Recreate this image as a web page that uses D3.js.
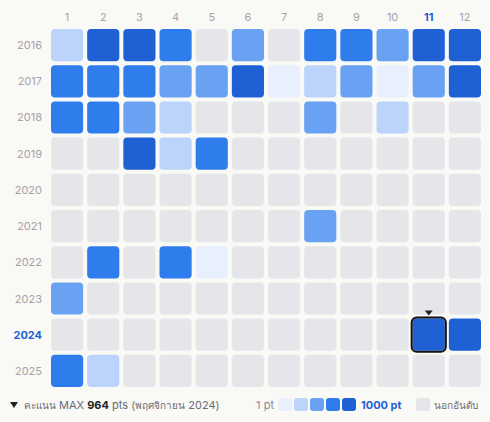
<!DOCTYPE html>
<html><head><meta charset="utf-8">
<script src="https://cdn.jsdelivr.net/npm/d3@7"></script>
<style>
html,body{margin:0;padding:0;background:#f9f9f6;}
svg{display:block;font-family:Inter,"Noto Sans",sans-serif;}
</style></head><body>
<svg id="chart" width="490" height="422"></svg>
<script>
const years = [2016,2017,2018,2019,2020,2021,2022,2023,2024,2025];
const months = ["1","2","3","4","5","6","7","8","9","10","11","12"];
// points per month (null = not ranked)
const pts2016 = [300,900,900,700,null,500,null,700,700,500,900,900];
const pts2017 = [700,700,700,500,500,900,120,300,500,120,500,900];
const pts2018 = [700,700,500,300,null,null,null,500,null,300,null,null];
const pts2019 = [null,null,900,300,700,null,null,null,null,null,null,null];
const pts2020 = [null,null,null,null,null,null,null,null,null,null,null,null];
const pts2021 = [null,null,null,null,null,null,null,500,null,null,null,null];
const pts2022 = [null,700,null,700,120,null,null,null,null,null,null,null];
const pts2023 = [500,null,null,null,null,null,null,null,null,null,null,null];
const pts2024 = [null,null,null,null,null,null,null,null,null,null,964,900];
const pts2025 = [700,300,null,null,null,null,null,null,null,null,null,null];
const seriesByYear = [pts2016,pts2017,pts2018,pts2019,pts2020,pts2021,pts2022,pts2023,pts2024,pts2025];
const legendLow = "1 pt", legendHigh = "1000 pt", legendOut = "นอกอันดับ";
const selYear = 2024, selMonth = "11";

const colors = ["#e8effd","#bcd3fb","#6aa2f3","#2f7ced","#1f60d5"];
const emptyColor = "#e5e6ea";
const color = d3.scaleQuantize().domain([1,1000]).range(colors);

const svg = d3.select("#chart");
const x = d3.scaleBand().domain(months).range([50,482]).paddingInner(4/36).paddingOuter(1/36);
const y = d3.scaleBand().domain(years).range([28,388]).paddingInner(4/36).paddingOuter(1/36);

const cells = [];
years.forEach((yr,i)=>months.forEach((m,j)=>cells.push({yr,m,v:seriesByYear[i][j]})));

svg.append("g").selectAll("rect").data(cells).join("rect")
  .attr("x",d=>x(d.m)).attr("y",d=>y(d.yr))
  .attr("width",x.bandwidth()).attr("height",y.bandwidth())
  .attr("rx",4)
  .attr("fill",d=>d.v==null?emptyColor:color(d.v));

// month labels
svg.append("g").selectAll("text").data(months).join("text")
  .attr("x",d=>x(d)+x.bandwidth()/2).attr("y",21)
  .attr("text-anchor","middle").attr("font-size",11)
  .attr("font-weight",d=>d===selMonth?700:400)
  .attr("fill",d=>d===selMonth?"#1f60d5":"#a8a1a8")
  .text(d=>d);
// year labels
svg.append("g").selectAll("text").data(years).join("text")
  .attr("x",42).attr("y",d=>y(d)+y.bandwidth()/2+4)
  .attr("text-anchor","end").attr("font-size",11)
  .attr("font-weight",d=>d===selYear?700:400)
  .attr("fill",d=>d===selYear?"#1f60d5":"#a8a1a8")
  .text(d=>d);

// selected cell
const sx = x(selMonth), sy = y(selYear);
svg.append("rect").attr("x",sx-1).attr("y",sy-1)
  .attr("width",x.bandwidth()+2).attr("height",y.bandwidth()+2)
  .attr("rx",5).attr("fill","none").attr("stroke","#111").attr("stroke-width",2);
const cx = sx + x.bandwidth()/2;
svg.append("path").attr("d",`M${cx-4},${sy-8}L${cx+4},${sy-8}L${cx},${sy-3}Z`).attr("fill","#222");

// footer left
const maxVal = d3.max(seriesByYear.flat());
const maxIdx = seriesByYear.findIndex(a=>a.includes(maxVal));
const maxMonth = seriesByYear[maxIdx].indexOf(maxVal);
const thMonths = ["มกราคม","กุมภาพันธ์","มีนาคม","เมษายน","พฤษภาคม","มิถุนายน","กรกฎาคม","สิงหาคม","กันยายน","ตุลาคม","พฤศจิกายน","ธันวาคม"];
svg.append("path").attr("d","M10,402L18,402L14,408Z").attr("fill","#222");
const t = svg.append("text").attr("x",24).attr("y",409).attr("font-size",11).attr("fill","#6b6b78");
t.append("tspan").attr("font-size",10).text("คะแนน");
t.append("tspan").text(" MAX ");
t.append("tspan").attr("font-weight",700).attr("fill","#222").text(maxVal);
t.append("tspan").text(" pts (");
t.append("tspan").attr("font-size",10).text(thMonths[maxMonth]);
t.append("tspan").text(` ${years[maxIdx]})`);

// legend
svg.append("text").attr("x",274).attr("y",409).attr("text-anchor","end").attr("font-size",11).attr("fill","#8a8a96").text(legendLow);
svg.append("g").selectAll("rect").data(colors).join("rect")
  .attr("x",(d,i)=>278+i*16).attr("y",398).attr("width",14).attr("height",13).attr("rx",3).attr("fill",d=>d);
svg.append("text").attr("x",361).attr("y",409).attr("font-size",11).attr("font-weight",700).attr("fill","#1f60d5").text(legendHigh);
svg.append("rect").attr("x",416).attr("y",398).attr("width",14).attr("height",13).attr("rx",3).attr("fill",emptyColor);
svg.append("text").attr("x",434).attr("y",409).attr("font-size",10).attr("fill","#6b6b78").text(legendOut);
</script>
</body></html>
